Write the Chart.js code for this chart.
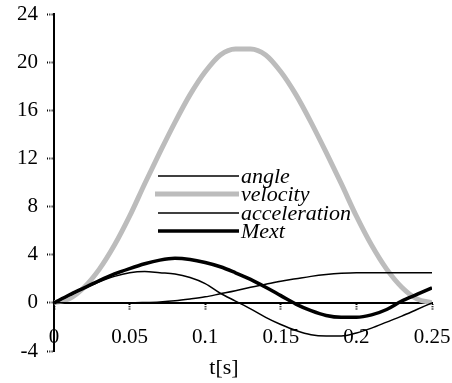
<!DOCTYPE html>
<html><head><meta charset="utf-8">
<script src="https://cdn.jsdelivr.net/npm/chart.js@4/dist/chart.umd.min.js"></script>
<style>html,body{margin:0;padding:0;background:#fff}#w{width:452px;height:383px}</style>
</head><body><div id="w"><canvas id="c" width="452" height="383"></canvas></div>
<script>
const times = [0,0.01,0.02,0.03,0.04,0.05,0.06,0.07,0.08,0.09,0.10,0.11,0.12,0.13,0.14,0.15,0.16,0.17,0.18,0.19,0.20,0.21,0.22,0.23,0.24,0.25];
const angle = [0,0,0,0,0,0,0.03,0.08,0.17,0.32,0.5,0.75,1.0,1.3,1.55,1.8,2.0,2.2,2.35,2.45,2.5,2.5,2.5,2.5,2.5,2.5];
const velocity = [0,0.33,1.3,2.8,4.8,7.2,9.9,12.5,15.0,17.3,19.2,20.6,21.1,21.1,20.6,19.2,17.3,15.0,12.5,9.9,7.2,4.8,2.8,1.3,0.33,0];
const acceleration = [0,0.6,1.2,1.75,2.2,2.5,2.6,2.5,2.4,2.1,1.6,0.8,0.15,-0.5,-1.2,-1.8,-2.3,-2.65,-2.75,-2.75,-2.5,-2.1,-1.6,-1.1,-0.55,0];
const mext = [0,0.65,1.25,1.85,2.4,2.85,3.25,3.55,3.7,3.6,3.35,3.0,2.5,1.95,1.3,0.6,-0.1,-0.65,-1.05,-1.2,-1.2,-1.0,-0.55,0.15,0.7,1.25];
const seriesNames = ['angle','velocity','acceleration','Mext'];
const xTickLabels = ['0','0.05','0.1','0.15','0.2','0.25'];
const yTickLabels = ['-4','0','4','8','12','16','20','24'];
const xTitle = 't[s]';

const pts = arr => times.map((t,i)=>({x:t,y:arr[i]}));
const serif = "'Liberation Serif', 'DejaVu Serif', serif";

const legendPlugin = {
  id:'inlineLegend',
  afterDatasetsDraw(chart){
    const ctx = chart.ctx;
    const rows = [176,194,213,231];
    ctx.save();
    chart.data.datasets.forEach((ds,i)=>{
      const y = rows[i];
      ctx.beginPath();
      ctx.strokeStyle = ds.borderColor;
      ctx.lineWidth = ds.borderWidth;
      ctx.moveTo(i===1?155:158, y);
      ctx.lineTo(239, y);
      ctx.stroke();
      ctx.fillStyle = '#000';
      ctx.font = "italic 22px " + serif;
      ctx.textBaseline = 'middle';
      ctx.textAlign = 'left';
      ctx.fillText(ds.label, 241, y+1);
    });
    const t = chart.options.scales.x.title;
    ctx.font = t.font.size + "px " + serif;
    ctx.fillStyle = '#000';
    ctx.textAlign = 'center';
    ctx.textBaseline = 'middle';
    ctx.fillText(t.text, 224, 368);
    ctx.restore();
  }
};

new Chart(document.getElementById('c'), {
  type:'line',
  data:{datasets:[
    {label:seriesNames[0], data:pts(angle), borderColor:'#000', borderWidth:1.5, order:3},
    {label:seriesNames[1], data:pts(velocity), borderColor:'#bcbcbc', borderWidth:5, order:4},
    {label:seriesNames[2], data:pts(acceleration), borderColor:'#000', borderWidth:1.5, order:2},
    {label:seriesNames[3], data:pts(mext), borderColor:'#000', borderWidth:3.5, order:1}
  ]},
  options:{
    responsive:false, animation:false, devicePixelRatio:1,
    layout:{padding:{top:14,right:20,left:0,bottom:32}},
    elements:{point:{radius:0}, line:{cubicInterpolationMode:'monotone', fill:false}},
    plugins:{legend:{display:false}, tooltip:{enabled:false}},
    scales:{
      x:{type:'linear', min:0, max:0.25, position:{y:0},
        afterBuildTicks(s){ s.ticks = xTickLabels.map(v=>({value:parseFloat(v)})); },
        ticks:{color:'#000', font:{family:serif, size:21}, padding:16, maxRotation:0,
          callback:(v,i)=>xTickLabels[i]},
        grid:{drawOnChartArea:false, drawTicks:true, tickLength:6, color:'#000', tickWidth:2, tickBorderDash:[1,1.3]},
        border:{display:true, color:'#000', width:2, dash:[1,1.3]},
        title:{display:false, text:xTitle, color:'#000', font:{family:serif, size:22}},
        afterFit(s){ s.height = 31; s.paddingLeft = 0; s.paddingRight = 0; }
      },
      y:{type:'linear', min:-4, max:24, position:'left',
        afterBuildTicks(s){ s.ticks = yTickLabels.map(v=>({value:parseFloat(v)})); },
        ticks:{color:'#000', font:{family:serif, size:21}, padding:9, callback:(v,i)=>yTickLabels[i]},
        grid:{drawOnChartArea:false, drawTicks:true, tickLength:7, color:'#000', tickWidth:2, tickBorderDash:[1,1.3]},
        border:{display:true, color:'#000', width:2, dash:[1,1.3]},
        afterFit(s){ s.width = 54; s.paddingTop = 0; s.paddingBottom = 0; }
      }
    }
  },
  plugins:[legendPlugin]
});
</script></body></html>
